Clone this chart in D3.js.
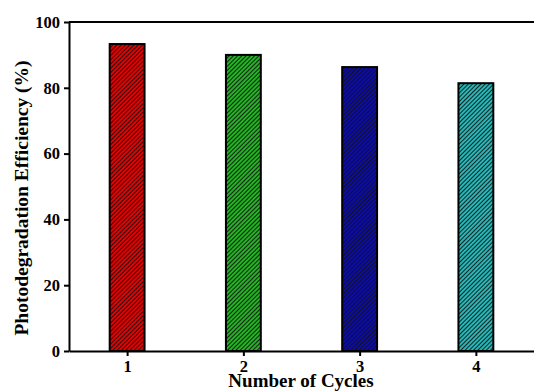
<!DOCTYPE html>
<html>
<head>
<meta charset="utf-8">
<script src="https://cdn.jsdelivr.net/npm/d3@7"></script>
<style>
  html, body { margin: 0; padding: 0; background: #fff; }
  svg { display: block; }
</style>
</head>
<body>
<svg id="chart" width="534" height="392"></svg>
<script>
// Photodegradation efficiency over repeated cycles
const cycles = [1, 2, 3, 4];
const efficiency = [93.3, 90.0, 86.3, 81.4];
const barColors = ["#e80000", "#22b422", "#0c0cae", "#26b8b8"];
const yTicks = [0, 20, 40, 60, 80, 100];

const width = 534, height = 392;
const margin = { left: 69, right: 0, top: 22, bottom: 41 };
const serif = "'Liberation Serif', 'Times New Roman', Times, serif";

const svg = d3.select("#chart");

const x = d3.scaleLinear().domain([0.5, 4.5]).range([margin.left, width - margin.right]);
const y = d3.scaleLinear().domain([0, 100]).range([height - margin.bottom, margin.top]);

// hatch fills: solid colour with dense dark diagonal lines
const defs = svg.append("defs");
barColors.forEach((c, i) => {
  const p = defs.append("pattern")
    .attr("id", "hatch" + i)
    .attr("patternUnits", "userSpaceOnUse")
    .attr("width", 3).attr("height", 3)
    .attr("patternTransform", "rotate(45)");
  p.append("rect").attr("width", 3).attr("height", 3).attr("fill", c);
  p.append("line").attr("x1", 0.5).attr("y1", 0).attr("x2", 0.5).attr("y2", 3)
    .attr("stroke", "#111").attr("stroke-width", 0.9);
});

const barW = 0.3;
svg.append("g").selectAll("rect")
  .data(cycles)
  .join("rect")
  .attr("x", (d) => x(d - barW / 2))
  .attr("width", (d) => x(d + barW / 2) - x(d - barW / 2))
  .attr("y", (d, i) => y(efficiency[i]))
  .attr("height", (d, i) => y(0) - y(efficiency[i]))
  .attr("fill", (d, i) => `url(#hatch${i})`)
  .attr("stroke", "#000")
  .attr("stroke-width", 2);

// top frame line
svg.append("line")
  .attr("x1", x(0.5)).attr("x2", x(4.5))
  .attr("y1", y(100)).attr("y2", y(100))
  .attr("stroke", "#000").attr("stroke-width", 2);

function styleAxis(g, size) {
  g.attr("font-family", serif).attr("font-size", size).attr("font-weight", "bold");
  g.selectAll("path, line").attr("stroke", "#000").attr("stroke-width", 2);
  g.selectAll("text").attr("fill", "#000");
}

svg.append("g")
  .attr("transform", `translate(${margin.left},0)`)
  .call(d3.axisLeft(y).tickValues(yTicks).tickSize(5).tickPadding(4).tickSizeOuter(0))
  .call(styleAxis, 16.5);

svg.append("g")
  .attr("transform", `translate(0,${height - margin.bottom})`)
  .call(d3.axisBottom(x).tickValues(cycles).tickFormat(d3.format("d")).tickSize(5).tickPadding(4).tickSizeOuter(0))
  .call(styleAxis, 16.5);

svg.append("text")
  .attr("font-family", serif).attr("font-weight", "bold").attr("font-size", 19)
  .attr("x", 301).attr("y", 387)
  .attr("text-anchor", "middle")
  .text("Number of Cycles");

svg.append("text")
  .attr("font-family", serif).attr("font-weight", "bold").attr("font-size", 19.5)
  .attr("transform", "translate(28,198) rotate(-90)")
  .attr("text-anchor", "middle")
  .text("Photodegradation Efficiency (%)");
</script>
</body>
</html>
